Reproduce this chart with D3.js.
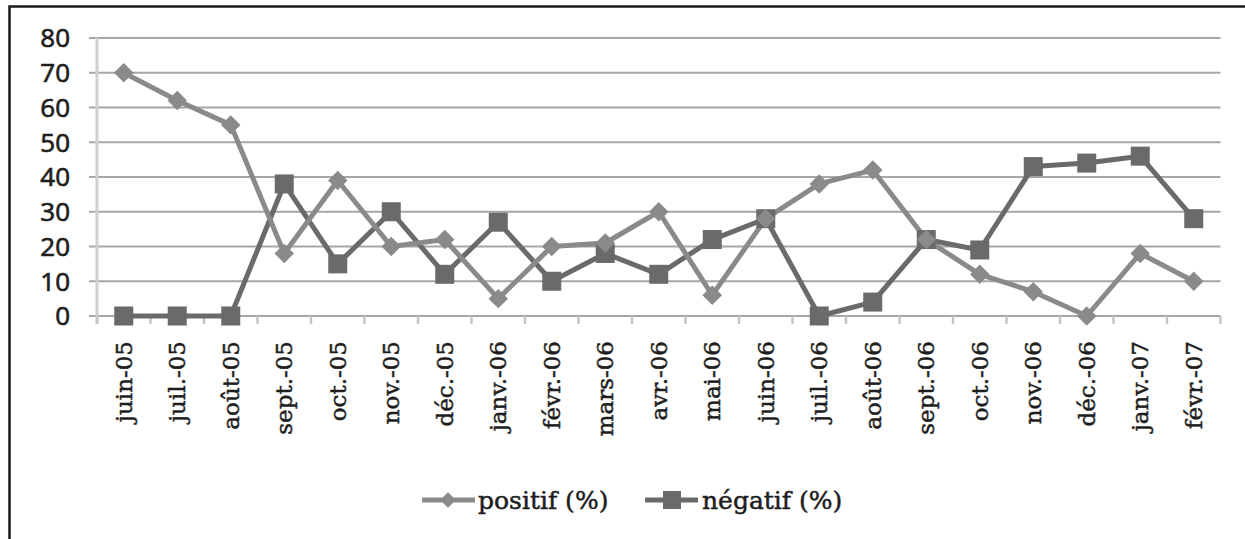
<!DOCTYPE html>
<html>
<head>
<meta charset="utf-8">
<script src="https://cdn.jsdelivr.net/npm/d3@7"></script>
<style>
  html, body { margin: 0; padding: 0; background: #fff; }
  svg { display: block; }
</style>
</head>
<body>
<svg id="chart" width="1245" height="539"></svg>
<script>
// Monthly categories
const months = ["juin-05","juil.-05","août-05","sept.-05","oct.-05","nov.-05","déc.-05",
  "janv.-06","févr.-06","mars-06","avr.-06","mai-06","juin-06","juil.-06","août-06",
  "sept.-06","oct.-06","nov.-06","déc.-06","janv.-07","févr.-07"];

// Series values (%)
const positif = [70, 62, 55, 18, 39, 20, 22, 5, 20, 21, 30, 6, 28, 38, 42, 22, 12, 7, 0, 18, 10];
const negatif = [0, 0, 0, 38, 15, 30, 12, 27, 10, 18, 12, 22, 28, 0, 4, 22, 19, 43, 44, 46, 28];

// Y axis ticks
const yTicks = [0, 10, 20, 30, 40, 50, 60, 70, 80];

const seriesNames = ["positif (%)", "négatif (%)"];

const svg = d3.select("#chart");

// Outer frame (only left and top edges fall inside the view)
svg.append("path")
  .attr("d", "M9.5,560 L9.5,6.5 L1260,6.5")
  .attr("fill", "none").attr("stroke", "#1a1a1a").attr("stroke-width", 2.5);

const plotLeft = 97, plotRight = 1220.5, plotTop = 38, plotBottom = 316;

const x = d3.scaleBand().domain(months).range([plotLeft, plotRight]);
const y = d3.scaleLinear().domain([0, 80]).range([plotBottom, plotTop]);

// Horizontal gridlines
svg.append("g").selectAll("line").data(yTicks).join("line")
  .attr("x1", 89).attr("x2", plotRight)
  .attr("y1", d => y(d)).attr("y2", d => y(d))
  .attr("stroke", "#a6a6a6").attr("stroke-width", 2);

// Y axis line
svg.append("line")
  .attr("x1", plotLeft).attr("x2", plotLeft)
  .attr("y1", plotTop).attr("y2", plotBottom + 8)
  .attr("stroke", "#cfcfcf").attr("stroke-width", 3);

// Category tick marks below the baseline
const bounds = months.map(m => x(m)).concat([plotRight]);
svg.append("g").selectAll("line").data(bounds).join("line")
  .attr("x1", d => d).attr("x2", d => d)
  .attr("y1", plotBottom).attr("y2", plotBottom + 8)
  .attr("stroke", "#c4c4c4").attr("stroke-width", 2.5);

// Y tick labels
svg.append("g").selectAll("text").data(yTicks).join("text")
  .attr("x", 70).attr("y", d => y(d))
  .attr("dy", "0.36em")
  .attr("text-anchor", "end")
  .attr("font-family", "'Open Sans', 'Liberation Sans', sans-serif")
  .attr("font-size", 26)
  .attr("fill", "#1e1e1e")
  .attr("stroke", "#1e1e1e").attr("stroke-width", 0.7)
  .text(d => d);

// X tick labels, rotated
svg.append("g").selectAll("text").data(months).join("text")
  .attr("transform", d => `translate(${x(d) + x.bandwidth() / 2 + 8},341) rotate(-90)`)
  .attr("text-anchor", "end")
  .attr("font-family", "'DejaVu Serif', 'Liberation Serif', serif")
  .attr("font-size", 23)
  .attr("fill", "#1e1e1e")
  .attr("stroke", "#1e1e1e").attr("stroke-width", 0.5)
  .text(d => d);

const cx = (d, i) => x(months[i]) + x.bandwidth() / 2;
const line = d3.line().x((d, i) => cx(d, i)).y(d => y(d));

const colPos = "#8a8a8a", colNeg = "#6a6a6a";

// négatif series
svg.append("path").datum(negatif)
  .attr("d", line).attr("fill", "none")
  .attr("stroke", colNeg).attr("stroke-width", 5).attr("stroke-linejoin", "round");

// positif series
svg.append("path").datum(positif)
  .attr("d", line).attr("fill", "none")
  .attr("stroke", colPos).attr("stroke-width", 5).attr("stroke-linejoin", "round");

svg.append("g").selectAll("rect").data(negatif).join("rect")
  .attr("x", (d, i) => cx(d, i) - 9.5).attr("y", d => y(d) - 9.5)
  .attr("width", 19).attr("height", 19)
  .attr("fill", colNeg);

svg.append("g").selectAll("path").data(positif).join("path")
  .attr("transform", (d, i) => `translate(${cx(d, i)},${y(d)}) rotate(45)`)
  .attr("d", d3.symbol().type(d3.symbolSquare).size(190))
  .attr("fill", colPos);

// Legend
const legend = svg.append("g").attr("font-family", "'DejaVu Serif', 'Liberation Serif', serif")
  .attr("font-size", 25).attr("fill", "#1e1e1e")
  .attr("stroke", "#1e1e1e").attr("stroke-width", 0.5);

legend.append("line").attr("x1", 422).attr("x2", 475).attr("y1", 500).attr("y2", 500)
  .attr("stroke", colPos).attr("stroke-width", 5);
legend.append("path").attr("transform", "translate(448,500) rotate(45)")
  .attr("d", d3.symbol().type(d3.symbolSquare).size(120)).attr("fill", colPos).attr("stroke", "none");
legend.append("text").attr("x", 478).attr("y", 500).attr("dy", "0.35em").text(seriesNames[0]);

legend.append("line").attr("x1", 645).attr("x2", 698).attr("y1", 500).attr("y2", 500)
  .attr("stroke", colNeg).attr("stroke-width", 5);
legend.append("rect").attr("x", 663).attr("y", 491).attr("width", 18).attr("height", 18)
  .attr("fill", colNeg).attr("stroke", "none");
legend.append("text").attr("x", 702).attr("y", 500).attr("dy", "0.35em").text(seriesNames[1]);
</script>
</body>
</html>
